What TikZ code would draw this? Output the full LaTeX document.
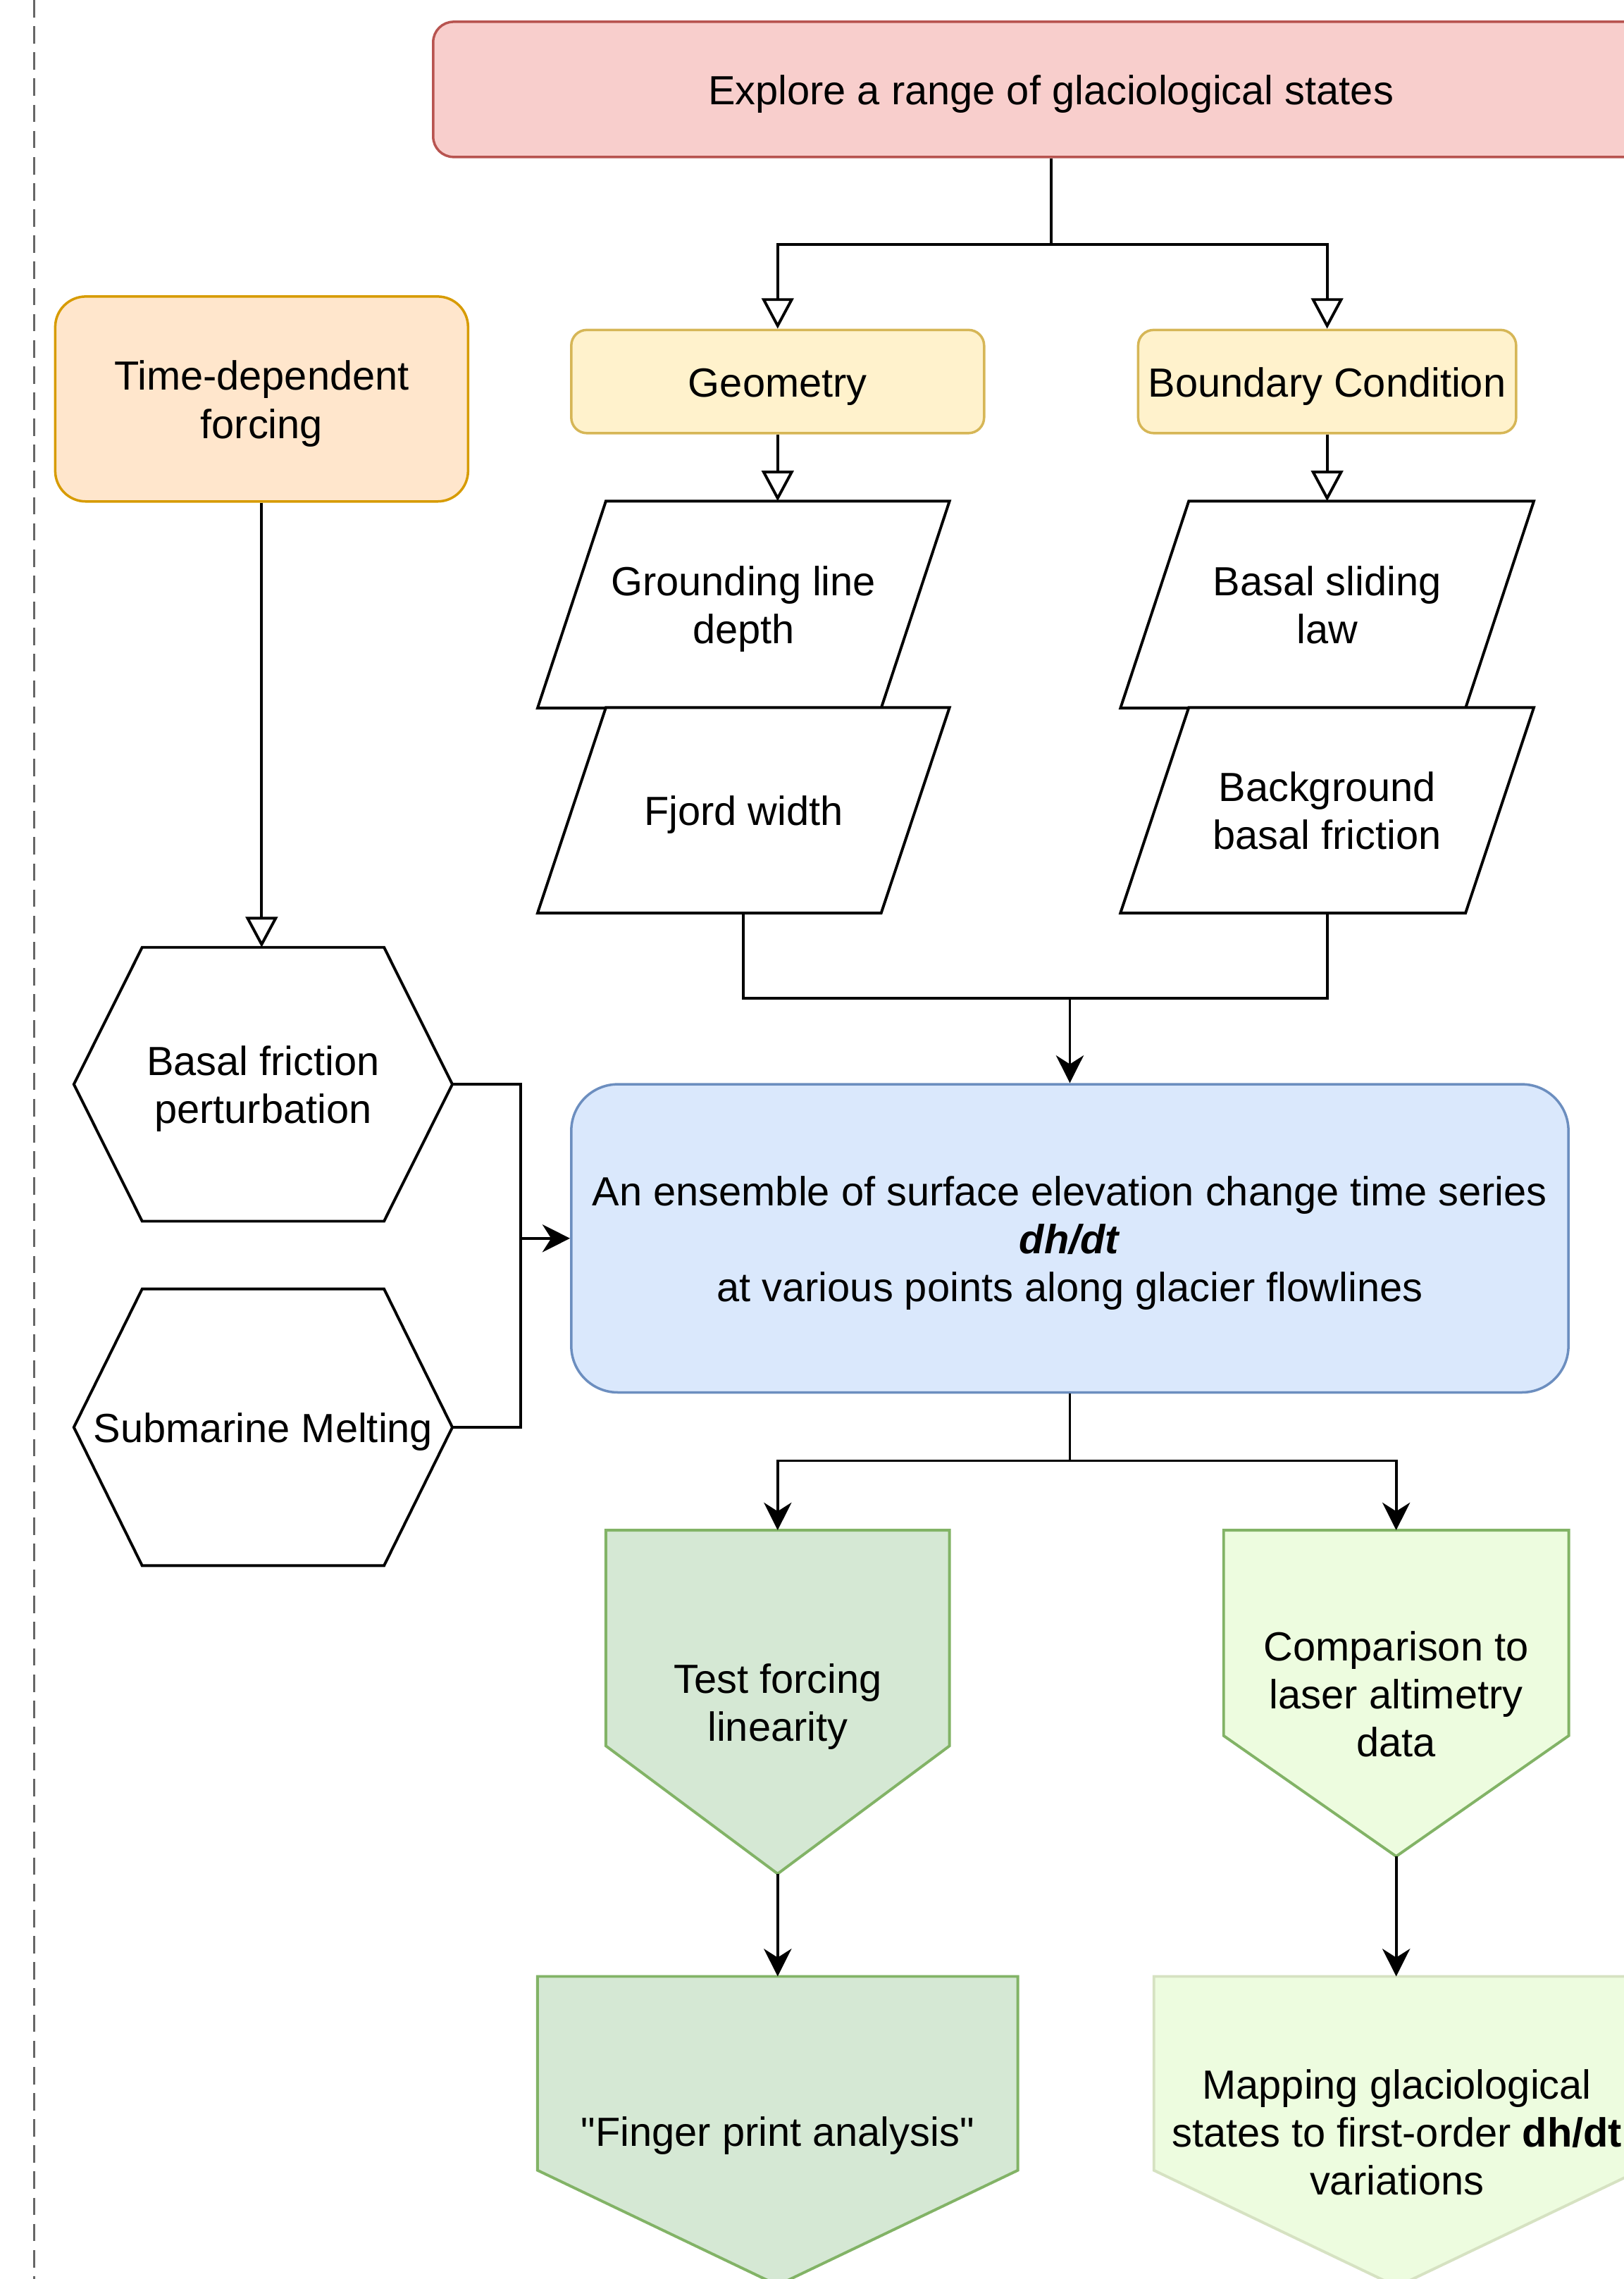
\documentclass[tikz,border=0pt]{standalone}
\usepackage{fontspec}
\setmainfont{Liberation Sans}
\usetikzlibrary{arrows.meta,backgrounds,calc}

\definecolor{redfill}{HTML}{F8CECC}
\definecolor{redline}{HTML}{B85450}
\definecolor{yelfill}{HTML}{FFF2CC}
\definecolor{yelline}{HTML}{D6B656}
\definecolor{orafill}{HTML}{FFE6CC}
\definecolor{oraline}{HTML}{D79B00}
\definecolor{bluefill}{HTML}{DAE8FC}
\definecolor{blueline}{HTML}{6C8EBF}
\definecolor{grnfill}{HTML}{D5E8D4}
\definecolor{grnline}{HTML}{82B366}
\definecolor{limefill}{HTML}{EDFCDF}
\definecolor{limeline}{HTML}{D6E2C2}
\definecolor{sepgray}{HTML}{666666}

% struts so that every text sits like a draw.io label
\newcommand{\topstrut}{\rule{0pt}{28pt}}
\newcommand{\botstrut}{\rule[-7pt]{0pt}{7pt}}

\tikzset{
  box/.style={
    draw,
    line width=1.7pt,
    align=center,
    inner sep=0pt,
    font=\fontsize{28}{33}\selectfont
  },
  txt/.style={
    align=center,
    inner sep=0pt,
    font=\fontsize{28}{33}\selectfont
  },
  outline/.style={
    line width=1.9pt,
    line join=miter
  },
  link/.style={
    line width=1.9pt
  },
  openarr/.style={
    link,
    -{Triangle[open,fill=white,length=21pt,width=22pt]}
  },
  arr/.style={
    link,
    -{Stealth[length=19pt,width=19pt,inset=6pt]}
  },
  sepline/.style={
    draw=sepgray,
    line width=1.8pt,
    dash pattern=on 12pt off 6pt
  }
}

\begin{document}
\begin{tikzpicture}[x=1pt,y=-1pt]
    \useasboundingbox (0,0) rectangle (1117,1568);

    % dashed separator
    \draw[sepline] (23.5,0) -- (23.5,1568);

    % boxes
    \node[box, fill=redfill, draw=redline, rounded corners=14, minimum width=850, minimum height=93] (explore) at (723,61.5) {\topstrut Explore a range of glaciological states\botstrut};
    \node[box, fill=yelfill, draw=yelline, rounded corners=10.7, minimum width=284, minimum height=71] (geom) at (535,262.5) {\topstrut Geometry\botstrut};
    \node[box, fill=yelfill, draw=yelline, rounded corners=10.7, minimum width=260, minimum height=71] (bcond) at (913,262.5) {\topstrut Boundary Condition\botstrut};
    \node[box, fill=orafill, draw=oraline, rounded corners=21, minimum width=284, minimum height=141] (tforce) at (180,274.5) {\topstrut Time-dependent\\forcing\botstrut};

    \node[txt, minimum width=283, minimum height=142] (gldepth) at (511.5,416) {\topstrut Grounding line\\depth\botstrut};
    \node[txt, minimum width=283, minimum height=141] (fjord) at (511.5,557.5) {\topstrut Fjord width\botstrut};
    \node[txt, minimum width=284, minimum height=142] (sliding) at (913,416) {\topstrut Basal sliding\\law\botstrut};
    \node[txt, minimum width=284, minimum height=141] (bgfric) at (913,557.5) {\topstrut Background\\basal friction\botstrut};

    \node[txt, minimum width=260, minimum height=188] (bfpert) at (181,746) {\topstrut Basal friction\\perturbation\botstrut};
    \node[txt, minimum width=260, minimum height=190] (melt) at (181,982) {\topstrut Submarine Melting\botstrut};

    \node[box, fill=bluefill, draw=blueline, rounded corners=32, minimum width=686, minimum height=212] (ensemble) at (736,852) {\topstrut An ensemble of surface elevation change time series\\\textbf{\textit{dh/dt}}\\at various points along glacier flowlines\botstrut};

    \node[txt, minimum width=236, minimum height=236] (linear) at (535,1171) {\topstrut Test forcing\\linearity\botstrut};
    \node[txt, minimum width=237, minimum height=224] (compare) at (960.5,1165) {\topstrut Comparison to\\laser altimetry\\data\botstrut};
    \node[txt, minimum width=330, minimum height=212] (fingerprint) at (535,1466) {\topstrut\textquotedbl Finger print analysis\textquotedbl\botstrut};
    \node[txt, minimum width=334, minimum height=213] (mapping) at (961,1466.5) {\topstrut Mapping glaciological\\states to first-order \textbf{dh/dt}\\variations\botstrut};

    % outlines behind the texts
    \begin{scope}[on background layer]
        \foreach \p in {gldepth,fjord,sliding,bgfric}
            \filldraw[outline, fill=white] ([xshift=47]\p.north west) -- (\p.north east) -- ([xshift=-47]\p.south east) -- (\p.south west) -- cycle;
        \foreach \h in {bfpert,melt}
            \filldraw[outline, fill=white] (\h.west) -- ([xshift=47]\h.north west) -- ([xshift=-47]\h.north east) -- (\h.east) -- ([xshift=-47]\h.south east) -- ([xshift=47]\h.south west) -- cycle;
        \filldraw[outline, fill=grnfill, draw=grnline] (linear.north west) -- (linear.north east) -- ([yshift=88]linear.south east) -- (linear.south) -- ([yshift=88]linear.south west) -- cycle;
        \filldraw[outline, fill=limefill, draw=grnline] (compare.north west) -- (compare.north east) -- ([yshift=83]compare.south east) -- (compare.south) -- ([yshift=83]compare.south west) -- cycle;
        \filldraw[outline, fill=grnfill, draw=grnline] (fingerprint.north west) -- (fingerprint.north east) -- ([yshift=79]fingerprint.south east) -- (fingerprint.south) -- ([yshift=79]fingerprint.south west) -- cycle;
        \filldraw[outline, fill=limefill, draw=limeline] (mapping.north west) -- (mapping.north east) -- ([yshift=80]mapping.south east) -- (mapping.south) -- ([yshift=80]mapping.south west) -- cycle;
    \end{scope}

    % connectors
    \coordinate (split1) at (723,168);
    \draw[link] (explore.south) -- (split1);
    \draw[openarr] (split1) -| (geom.north);
    \draw[openarr] (split1) -| (bcond.north);
    \draw[openarr] (geom.south) -- (geom.south |- gldepth.north);
    \draw[openarr] (bcond.south) -- (bcond.south |- sliding.north);
    \draw[openarr] (tforce.south) -- (tforce.south |- bfpert.north);

    \coordinate (merge1) at (736,687);
    \draw[link] (fjord.south) |- (merge1) -| (bgfric.south);
    \draw[arr] (merge1) -- (ensemble.north);

    \coordinate (merge2) at (358,852);
    \draw[link] (bfpert.east) -| (merge2) |- (melt.east);
    \draw[arr] (merge2) -- (ensemble.west);

    \coordinate (split2) at (736,1005);
    \draw[link] (ensemble.south) -- (split2);
    \draw[arr] (split2) -| (linear.north);
    \draw[arr] (split2) -| (compare.north);
    \draw[arr] (linear.south) -- (fingerprint.north);
    \draw[arr] (compare.south) -- (compare.south |- mapping.north);
\end{tikzpicture}
\end{document}
